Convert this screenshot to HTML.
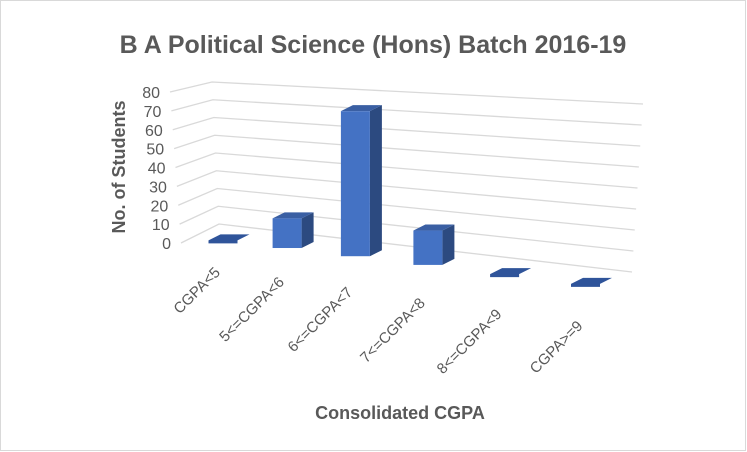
<!DOCTYPE html>
<html><head><meta charset="utf-8"><style>
html,body{margin:0;padding:0;background:#fff}
svg{display:block;font-family:"Liberation Sans",Calibri,sans-serif}
</style></head><body>
<svg id="chart" width="747" height="452" viewBox="0 0 747 452">
<rect x="0.5" y="0.5" width="745" height="450" fill="#fff" stroke="#d9d9d9"/>
<text x="373" y="53" text-anchor="middle" font-size="25" font-weight="bold" fill="#595959">B A Political Science (Hons)  Batch 2016-19</text>
<g id="grid"></g>
<g id="yticks"></g>
<g id="bars"></g>
<g id="xticks"></g>
<text transform="translate(125,167) rotate(-90)" text-anchor="middle" font-size="18" font-weight="bold" fill="#595959">No. of Students</text>
<text x="400" y="419" text-anchor="middle" font-size="18" font-weight="bold" fill="#595959">Consolidated CGPA</text>
</svg>
<script>
const categories = ["CGPA<5","5<=CGPA<6","6<=CGPA<7","7<=CGPA<8","8<=CGPA<9","CGPA>=9"];
const values = [0,14,70,17,0,0];
const tickValues = [0,10,20,30,40,50,60,70,80];
const yMax = 80;

const NS="http://www.w3.org/2000/svg";
function mk(tag,attrs,parent){const e=document.createElementNS(NS,tag);for(const k in attrs)e.setAttribute(k,attrs[k]);parent.appendChild(e);return e;}
function lerp(a,b,t){return a+(b-a)*t;}
function gridPts(v){const t=v/yMax;
  return [[lerp(181,170,t),lerp(243,92,t)],[lerp(219,212,t),lerp(224,82,t)],[lerp(632,643,t),lerp(272,104,t)]];}
function centerX(i){return 223+62*i+2.1*i*i;}
function baseY(x){return 248+(x-287)*0.12;}
function scaleAt(x){return 2.12-(x-287)*0.0007;}

const grid=document.getElementById('grid'), yt=document.getElementById('yticks');
tickValues.forEach(v=>{
  const p=gridPts(v);
  const l=mk('polyline',{points:p.map(q=>q.join(',')).join(' '),fill:'none',stroke:'#d9d9d9','stroke-width':1.3},grid);
  
  
  const t=mk('text',{x:p[0][0]-10,y:p[0][1]+6,'text-anchor':'end','font-size':16,fill:'#595959'},yt);
  t.textContent=v;
  
  
});

const bars=document.getElementById('bars'), xt=document.getElementById('xticks');
const W=29, DX=12, DY=-6;
categories.forEach((c,i)=>{
  const cx=centerX(i), x0=cx-W/2, x1=cx+W/2;
  const yb=baseY(cx), h=Math.max(values[i]*scaleAt(cx),2), yt0=yb-h;
  const g=mk('g',{},bars);
  
  
  if(values[i]>0){
    mk('polygon',{points:`${x1},${yt0} ${x1+DX},${yt0+DY} ${x1+DX},${yb+DY} ${x1},${yb}`,fill:'#2c4a80'},g);
    mk('polygon',{points:`${x0},${yt0} ${x0+DX},${yt0+DY} ${x1+DX},${yt0+DY} ${x1},${yt0}`,fill:'#3a5fa3'},g);
    mk('rect',{x:x0,y:yt0,width:W,height:h,fill:'#4472c4'},g);
  } else {
    mk('polygon',{points:`${x0},${yb} ${x0+DX},${yb+DY} ${x1+DX},${yb+DY} ${x1},${yb} ${x1},${yb+3} ${x0},${yb+3}`,fill:'#2f549a'},g);
  }
  const tx=cx-2, ty=yb+33+i*2;
  const t=mk('text',{x:tx,y:ty,'text-anchor':'end','font-size':15,fill:'#595959',transform:`rotate(-45 ${tx} ${ty})`},xt);
  t.textContent=c;
  
  
});
</script>
</body></html>
